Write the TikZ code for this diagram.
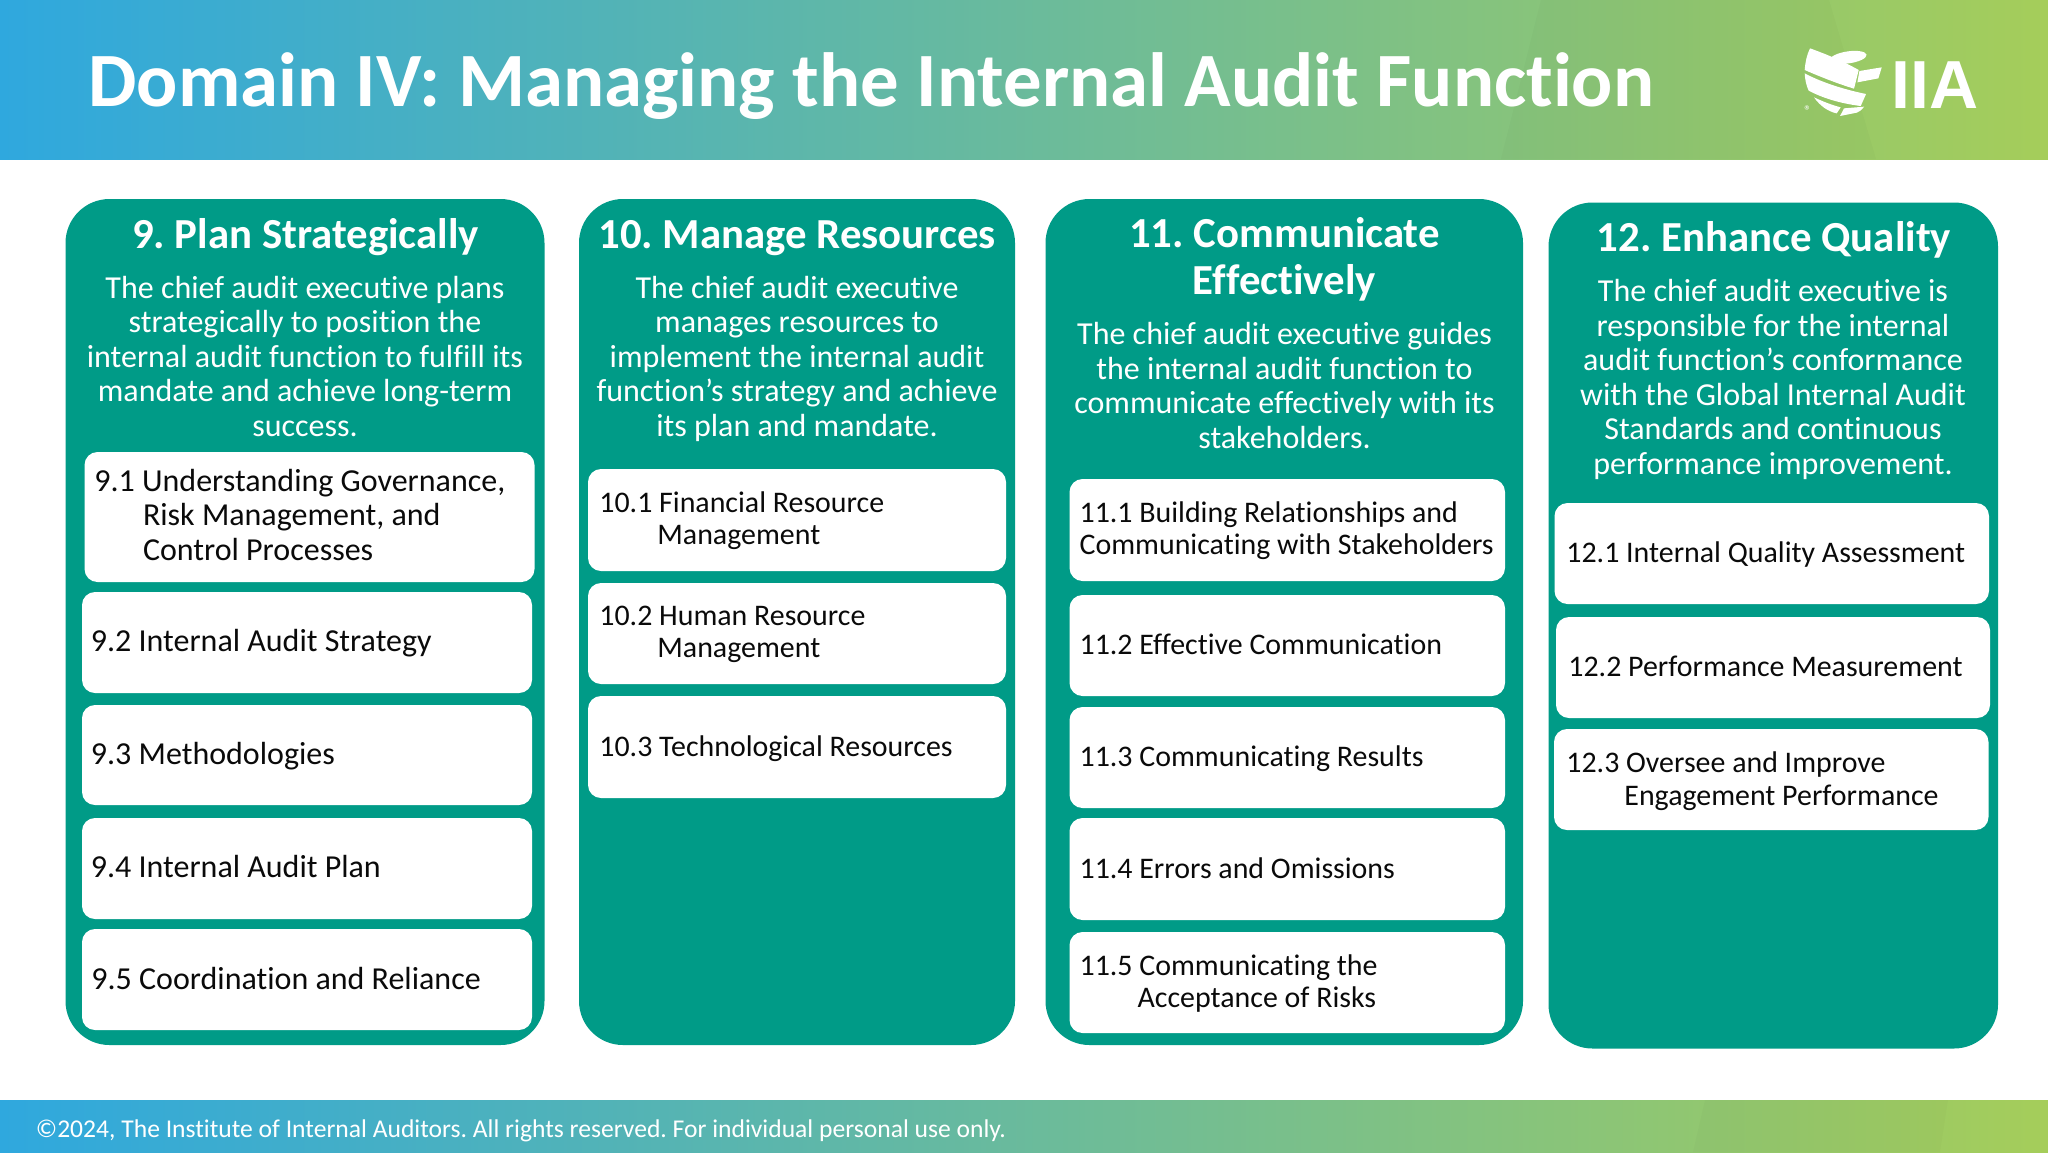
\documentclass[tikz,border=0pt]{standalone}
\usepackage{fontspec}
\setmainfont[Ligatures=NoCommon]{Carlito}
\newfontfamily\logofont{Liberation Sans}
\frenchspacing
\definecolor{teal}{RGB}{0,155,135}
\definecolor{gblue}{RGB}{47,168,222}
\definecolor{ggreen}{RGB}{165,205,90}
\definecolor{bodyink}{RGB}{10,10,10}
\tikzset{
  x=0.5pt,y=-0.5pt,
  panel/.style={fill=teal,draw=none,rounded corners=22pt,inner sep=0pt},
  card/.style={fill=white,draw=none,rounded corners=6.5pt,inner sep=0pt},
  head/.style={white,font=\fontsize{21.4}{23.3}\selectfont\bfseries,align=center,anchor=base,inner sep=0pt},
  desc/.style={white,font=\fontsize{16}{17.25}\selectfont,align=center,anchor=base,inner sep=0pt},
  item/.style={bodyink,font=\fontsize{16}{17.2}\selectfont,align=left,anchor=base west,inner sep=0pt},
  itemb/.style={bodyink,font=\fontsize{14.95}{16.2}\selectfont,align=left,anchor=base west,inner sep=0pt},
}
\newcommand\blk[6]{% style name x1 y1 x2 y2
  \pgfmathsetmacro\bw{(#5-#3)*0.5}\pgfmathsetmacro\bh{(#6-#4)*0.5}%
  \node[#1,minimum width=\bw pt,minimum height=\bh pt] (#2) at ({(#3+#5)/2},{(#4+#6)/2}) {};}
\begin{document}
\begin{tikzpicture}
\useasboundingbox (0,0) rectangle (2048,1152);
\fill[white] (0,0) rectangle (2048,1152);
% bands
\shade[left color=gblue,right color=ggreen] (0,0) rectangle (2048,159);
\shade[left color=gblue,right color=ggreen] (0,1100) rectangle (2048,1152);
\fill[black,opacity=.018] (1541,0) -- (1501,159) -- (1876,159) -- (1829,0) -- cycle;
\fill[black,opacity=.015] (1705,1100) -- (1693,1152) -- (1940,1152) -- (1948,1100) -- cycle;
\node[white,font=\fontsize{38.4}{40}\selectfont\bfseries,anchor=base west,inner sep=0pt] (title) at (88,106) {Domain IV: Managing the Internal Audit Function};
\node[white,font=\fontsize{12.8}{14}\selectfont,anchor=base west,inner sep=0pt] (foot) at (35.5,1137.5) {©2024, The Institute of Internal Auditors. All rights reserved. For individual personal use only.};
% logo
\begin{scope}[fill=white,shift={(1700,20)},x=0.1667pt,y=-0.1667pt]
\fill (330,85) .. controls (385,105) and (432,125) .. (476,150) -- (462,206) .. controls (410,190) and (360,170) .. (314,150) .. controls (316,125) and (320,105) .. (330,85) -- cycle;
\fill[rotate around={8:(445,112)}] (445,112) ellipse (55 and 18);
\fill (478,153) -- (545,142) -- (535,175) -- (472,187) -- cycle;
\fill (314,160) .. controls (370,190) and (440,210) .. (498,222) -- (482,258) .. controls (420,250) and (370,235) .. (326,212) .. controls (318,195) and (315,178) .. (314,160) -- cycle;
\fill (342,232) .. controls (370,245) and (395,255) .. (422,262) -- (410,280) .. controls (385,275) and (360,258) .. (342,232) -- cycle;
\fill (432,265) -- (492,260) .. controls (485,270) and (478,275) .. (470,278) -- (420,288) -- cycle;
\end{scope}
\node[white,font=\fontsize{34}{36}\logofont\bfseries\selectfont,anchor=base west,inner sep=0pt] (iia) at (1891,108) {IIA};
\node[white,font=\fontsize{7}{8}\selectfont,inner sep=0pt] (reg) at (1808,111) {®};
% panels
\blk{panel}{p9}{65.5}{199}{544.5}{1045}
\blk{panel}{p10}{579}{199}{1015}{1045}
\blk{panel}{p11}{1045.5}{199}{1523}{1045}
\blk{panel}{p12}{1548.5}{202.5}{1998}{1048.5}
% cards
\blk{card}{c91}{84.5}{452}{534.5}{582}
\blk{card}{c92}{82}{592}{532}{693}
\blk{card}{c93}{82}{705}{532}{805}
\blk{card}{c94}{82}{818}{532}{919}
\blk{card}{c95}{82}{929}{532}{1030}
\blk{card}{c101}{588}{469}{1006}{571}
\blk{card}{c102}{588}{583}{1006}{684}
\blk{card}{c103}{588}{696}{1006}{798}
\blk{card}{c111}{1069.5}{479}{1505}{581}
\blk{card}{c112}{1069.5}{595}{1505}{696}
\blk{card}{c113}{1069.5}{707}{1505}{808}
\blk{card}{c114}{1069.5}{818}{1505}{920}
\blk{card}{c115}{1069.5}{932}{1505}{1033}
\blk{card}{c121}{1554.5}{503}{1989}{604}
\blk{card}{c122}{1556}{617}{1990}{718}
\blk{card}{c123}{1554}{729}{1988.5}{830}
% heads (y = last baseline)
\node[head] (h9) at (305.5,248) {9. Plan Strategically};
\node[head] (h10) at (797,248) {10. Manage Resources};
\node[head] (h11) at (1284.5,294.3) {11. Communicate\\Effectively};
\node[head] (h12) at (1774,251.3) {12. Enhance Quality};
% descriptions (y = last baseline)
\node[desc] (d9) at (305,436.3) {The chief audit executive plans\\strategically to position the\\internal audit function to fulfill its\\mandate and achieve long-term\\success.};
\node[desc] (d10) at (797,436.3) {The chief audit executive\\manages resources to\\implement the internal audit\\function’s strategy and achieve\\its plan and mandate.};
\node[desc] (d11) at (1284.5,448) {The chief audit executive guides\\the internal audit function to\\communicate effectively with its\\stakeholders.};
\node[desc] (d12) at (1773,474) {The chief audit executive is\\responsible for the internal\\audit function’s conformance\\with the Global Internal Audit\\Standards and continuous\\performance improvement.};
% items (y = last baseline)
\node[item] (t91) at (94,560) {9.1 Understanding Governance,\\\hspace*{24.3pt}Risk Management, and\\\hspace*{24.3pt}Control Processes};
\node[item] (t92) at (90.5,651) {9.2 Internal Audit Strategy};
\node[item] (t93) at (90.5,764) {9.3 Methodologies};
\node[item] (t94) at (90.5,877.7) {9.4 Internal Audit Plan};
\node[item] (t95) at (91,989) {9.5 Coordination and Reliance};
\node[itemb] (t101) at (599,544.8) {10.1 Financial Resource\\\hspace*{29pt}Management};
\node[itemb] (t102) at (599,657.8) {10.2 Human Resource\\\hspace*{29pt}Management};
\node[itemb] (t103) at (599,756) {10.3 Technological Resources};
\node[itemb] (t111) at (1079.2,554.8) {11.1 Building Relationships and\\Communicating with Stakeholders};
\node[itemb] (t112) at (1079.2,654) {11.2 Effective Communication};
\node[itemb] (t113) at (1079.2,766) {11.3 Communicating Results};
\node[itemb] (t114) at (1079.2,878) {11.4 Errors and Omissions};
\node[itemb] (t115) at (1079.2,1007.5) {11.5 Communicating the\\\hspace*{29pt}Acceptance of Risks};
\node[itemb] (t121) at (1566,562) {12.1 Internal Quality Assessment};
\node[itemb] (t122) at (1568,676) {12.2 Performance Measurement};
\node[itemb] (t123) at (1566,805) {12.3 Oversee and Improve\\\hspace*{29pt}Engagement Performance};
\end{tikzpicture}
\end{document}
